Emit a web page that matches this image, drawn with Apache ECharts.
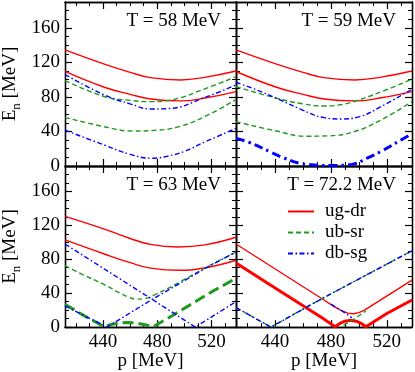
<!DOCTYPE html>
<html>
<head>
<meta charset="utf-8">
<script src="https://cdn.jsdelivr.net/npm/echarts@6/dist/echarts.min.js"></script>
<style>
  html, body { margin: 0; padding: 0; background: #fff; }
  #chart { width: 415px; height: 372px; }
</style>
</head>
<body>
<div id="chart"></div>
<script>
// tick values
const xMajor = [440, 480, 520]
const xMinor = [420, 430, 450, 460, 470, 490, 500, 510, 530]
const yMajor = [0, 40, 80, 120, 160]
const yMinor = [10, 20, 30, 50, 60, 70, 90, 100, 110, 130, 140, 150, 170, 180]
const panelTitles = ['T = 58 MeV', 'T = 59 MeV', 'T = 63 MeV', 'T = 72.2 MeV']
const legendNames = ['ug-dr', 'ub-sr', 'db-sg']

// T = 58 MeV  [p, E_n]
const p58_ugdr_a = [[412,134.5],[441,118],[460,108.5],[475,102.4],[497,99.7],[516,103],[538,110]]
const p58_ugdr_b = [[412,109.5],[441,91.2],[460,83],[475,77.7],[497,75.4],[516,79],[538,86.2]]
const p58_ubsr_a = [[412,99],[441,80.5],[460,76],[475,74.6],[490,76.5],[516,90],[538,103.5]]
const p58_ubsr_b = [[412,56.4],[441,45.5],[462,40.5],[480,41.5],[497,46],[516,58],[538,77]]
const p58_dbsg_a = [[412,106],[441,82.3],[460,72],[475,66.1],[488,66.5],[516,80],[538,94]]
const p58_dbsg_b = [[412,41.5],[441,24.3],[460,13.5],[476,9],[488,11.5],[500,17],[516,28.5],[538,43.5]]

// T = 59 MeV
const p59_ugdr_a = [[412,134.5],[441,118],[460,108.5],[475,102.4],[497,99.7],[516,103],[538,110]]
const p59_ugdr_b = [[412,109.5],[441,91.2],[460,83],[475,77.7],[497,75.4],[516,79],[538,86.2]]
const p59_ubsr_a = [[412,92],[441,78.5],[460,72],[475,69.5],[485,70.5],[497,75],[516,86],[538,100.5]]
const p59_ubsr_b = [[412,51.4],[441,40.5],[462,34.5],[478,35],[497,40],[516,53.5],[538,74.6]]
const p59_dbsg_a = [[412,97],[427,88],[441,78.5],[458,66],[475,56],[487,54.5],[500,57],[516,69],[538,89]]
const p59_dbsg_b = [[412,32],[422,27],[437,16],[446,9.5],[458,3],[470,1],[480,0.5],[490,1],[498,3],[505,8.5],[516,17],[530,30],[538,37.5]]

// T = 63 MeV
const p63_ugdr_a = [[412,130.5],[441,115.5],[460,104.5],[475,97.5],[495,94.5],[515,97],[538,106]]
const p63_ugdr_b = [[412,102.8],[441,86.2],[460,76],[475,69.6],[497,67],[516,70],[538,78.8]]
const p63_ubsr_a = [[412,72.5],[425,62],[441,50],[452,40.5],[458,36],[464,33],[470,33.5],[478,38],[497,53.5],[516,70.5],[538,88.5]]
const p63_ubsr_b = [[412,27],[426,13.5],[441,0.5],[446,3],[452,5],[458,5.5],[464,5],[470,3],[477,0.5],[490,12.5],[505,27],[520,41.5],[538,57.5]]
const p63_dbsg_a = [[412,98],[441,68.5],[474,35],[508,0],[538,30]]
const p63_dbsg_b = [[412,25],[443,0],[474,30.5],[497,52],[516,70],[538,88.5]]

// T = 72.2 MeV
const p72_ugdr_a = [[412,98],[473,34],[482,24.5],[488,19],[492,16.5],[496,15.8],[500,17],[504,20],[538,55.5]]
const p72_ugdr_b = [[412,75.5],[440,46],[473,11.5],[483,0.5],[486,4],[490,7],[494,8],[498,7],[502,4],[505,0.5],[520,16],[538,32]]
const p72_ubsr_a = [[412,23],[437,0],[474,34],[538,90]]
const p72_ubsr_b = [[489,2],[497,10],[505,19]]
const p72_dbsg_a = [[412,23],[437,0],[474,34],[538,90]]
const p72_dbsg_b = [[480,27],[488,19],[495,11]]

const FONT = '"Liberation Serif", "DejaVu Serif", serif'
const colors = { 'ug-dr': '#ff0000', 'ub-sr': '#1e9a1e', 'db-sg': '#0000ff' }
const dashThin = { 'ug-dr': 'solid', 'ub-sr': [5, 3], 'db-sg': [5, 2.5, 1.5, 2.5] }
const dashThick = { 'ug-dr': 'solid', 'ub-sr': [11, 5], 'db-sg': [9, 4, 2.5, 4] }

const grids = [
  { left: 60, top: 2, width: 176, height: 164 },
  { left: 236, top: 2, width: 176, height: 164 },
  { left: 60, top: 166, width: 176, height: 164 },
  { left: 236, top: 166, width: 176, height: 164 }
]

const axisLine = { show: true, onZero: false, lineStyle: { color: '#000', width: 1.3 } }

function xAxesFor(g) {
  const bottomRow = g >= 2
  const base = { type: 'value', gridIndex: g, min: 412, max: 538, splitLine: { show: false }, axisLine }
  const major = { inside: true, length: 7, customValues: xMajor, lineStyle: { color: '#000', width: 1.2 } }
  const minor = { inside: true, length: 4, customValues: xMinor, lineStyle: { color: '#000', width: 1 } }
  return [
    Object.assign({}, base, {
      position: 'bottom', axisTick: major,
      axisLabel: { show: bottomRow, customValues: xMajor, margin: 5, color: '#000', fontSize: 19, fontFamily: FONT },
      name: bottomRow ? 'p [MeV]' : '', nameLocation: 'middle', nameGap: 23,
      nameTextStyle: { color: '#000', fontSize: 19, fontFamily: FONT }
    }),
    Object.assign({}, base, { position: 'bottom', axisTick: minor, axisLabel: { show: false } }),
    Object.assign({}, base, { position: 'top', axisTick: major, axisLabel: { show: false } }),
    Object.assign({}, base, { position: 'top', axisTick: minor, axisLabel: { show: false } })
  ]
}

function yAxesFor(g) {
  const leftCol = g % 2 === 0
  const base = { type: 'value', gridIndex: g, min: 0, max: 190, splitLine: { show: false }, axisLine }
  const major = { inside: true, length: 7, customValues: yMajor, lineStyle: { color: '#000', width: 1.2 } }
  const minor = { inside: true, length: 4, customValues: yMinor, lineStyle: { color: '#000', width: 1 } }
  return [
    Object.assign({}, base, {
      position: 'left', axisTick: major,
      axisLabel: { show: leftCol, customValues: yMajor, margin: 5, color: '#000', fontSize: 19, fontFamily: FONT },
      name: leftCol ? '{e|E}{n|n}{e| [MeV]}' : '', nameLocation: 'middle', nameGap: 42,
      nameTextStyle: {
        color: '#000', fontFamily: FONT,
        rich: {
          e: { fontSize: 19, fontFamily: FONT, color: '#000' },
          n: { fontSize: 13, fontFamily: FONT, color: '#000', verticalAlign: 'bottom', padding: [12, 0, 0, 0] }
        }
      }
    }),
    Object.assign({}, base, { position: 'left', axisTick: minor, axisLabel: { show: false } }),
    Object.assign({}, base, { position: 'right', axisTick: major, axisLabel: { show: false } }),
    Object.assign({}, base, { position: 'right', axisTick: minor, axisLabel: { show: false } })
  ]
}

function curve(g, name, data, thick, smooth) {
  return {
    type: 'line', name, data,
    xAxisIndex: g * 4, yAxisIndex: g * 4,
    symbol: 'none', smooth: smooth ? 0.45 : false,
    silent: true,
    lineStyle: { color: colors[name], width: thick ? 3 : 1.4, type: thick ? dashThick[name] : dashThin[name] },
    itemStyle: { color: colors[name] }
  }
}

const series = [
  curve(0, 'ug-dr', p58_ugdr_a, false, true),
  curve(0, 'ug-dr', p58_ugdr_b, false, true),
  curve(0, 'ub-sr', p58_ubsr_a, false, true),
  curve(0, 'ub-sr', p58_ubsr_b, false, true),
  curve(0, 'db-sg', p58_dbsg_a, false, true),
  curve(0, 'db-sg', p58_dbsg_b, false, true),

  curve(1, 'ug-dr', p59_ugdr_a, false, true),
  curve(1, 'ug-dr', p59_ugdr_b, false, true),
  curve(1, 'ub-sr', p59_ubsr_a, false, true),
  curve(1, 'ub-sr', p59_ubsr_b, false, true),
  curve(1, 'db-sg', p59_dbsg_a, false, true),
  curve(1, 'db-sg', p59_dbsg_b, true, true),

  curve(2, 'ug-dr', p63_ugdr_a, false, true),
  curve(2, 'ug-dr', p63_ugdr_b, false, true),
  curve(2, 'ub-sr', p63_ubsr_a, false, true),
  curve(2, 'ub-sr', p63_ubsr_b, true, false),
  curve(2, 'db-sg', p63_dbsg_a, false, false),
  curve(2, 'db-sg', p63_dbsg_b, false, false),

  curve(3, 'ug-dr', p72_ugdr_a, false, false),
  curve(3, 'ug-dr', p72_ugdr_b, true, false),
  curve(3, 'ub-sr', p72_ubsr_a, false, false),
  curve(3, 'ub-sr', p72_ubsr_b, false, false),
  curve(3, 'db-sg', p72_dbsg_a, false, false),
  curve(3, 'db-sg', p72_dbsg_b, false, false)
]

let xAxis = []
let yAxis = []
grids.forEach((gr, g) => {
  xAxis = xAxis.concat(xAxesFor(g))
  yAxis = yAxis.concat(yAxesFor(g))
})

const chart = echarts.init(document.getElementById('chart'))
chart.setOption({
  animation: false,
  backgroundColor: '#fff',
  title: panelTitles.map((t, i) => ({
    text: t, right: i % 2 ? 19 : 194, top: i < 2 ? 12 : 176, padding: 0,
    textStyle: { fontFamily: FONT, fontSize: 19, fontWeight: 'normal', color: '#000' }
  })),
  legend: {
    data: legendNames, orient: 'vertical', left: 287, top: 202,
    itemWidth: 26, itemHeight: 14, itemGap: 2, padding: 0, selectedMode: false,
    itemStyle: { opacity: 0 },
    textStyle: { fontFamily: FONT, fontSize: 19, color: '#000', padding: [0, 0, 0, 6] }
  },
  grid: grids,
  xAxis,
  yAxis,
  series
})
</script>
</body>
</html>
